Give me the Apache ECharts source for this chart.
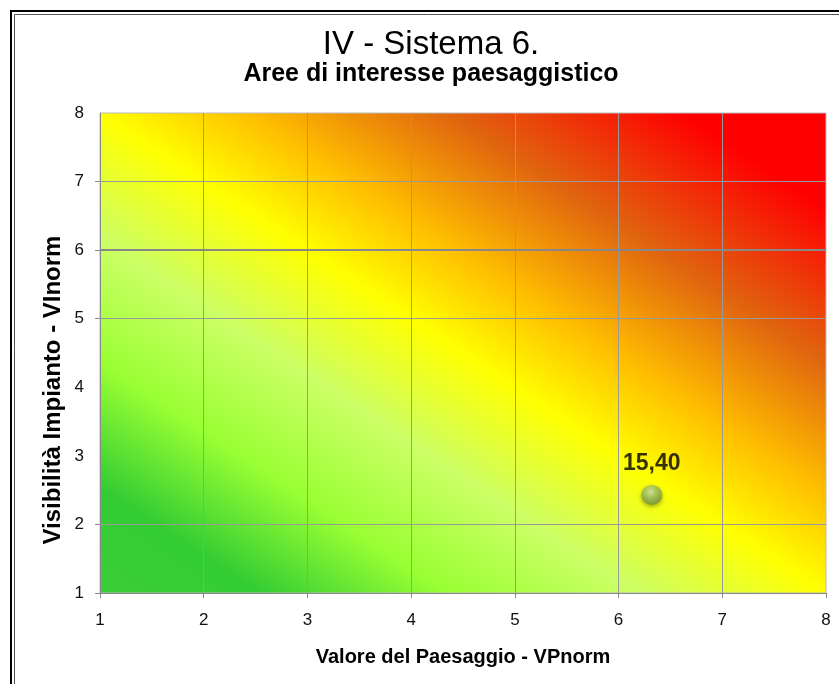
<!DOCTYPE html>
<html><head><meta charset="utf-8">
<script src="https://cdn.jsdelivr.net/npm/echarts@6/dist/echarts.min.js"></script>
<style>html,body{margin:0;padding:0;background:#fff}#c{width:839px;height:684px}</style>
</head><body><div id="c"></div>
<script>
// ---- data ----
const titleText = 'IV - Sistema 6.';
const subtitleText = 'Aree di interesse paesaggistico';
const xAxisTitle = 'Valore del Paesaggio - VPnorm';
const yAxisTitle = 'Visibilità Impianto - VInorm';
const xValues = [6.32];
const yValues = [2.43];
const pointLabels = ['15,40'];
const xGridLines = [2, 3, 4, 5, 6, 7];
const yGridLines = [2, 5, 6, 7];
const yBoldGridLine = 6;
const yTickValues = [1, 2, 5, 6, 7];
const axisMin = 1, axisMax = 8, axisStep = 1;

// ---- layout / style ----
const FF = "'Liberation Sans', Arial, sans-serif";
const G = {left: 100, top: 113, right: 13, bottom: 91};
const W = 839 - G.left - G.right, H = 684 - G.top - G.bottom;
const s = W * W + H * H;
const gx2 = 2 * H * H / s, gy2 = 1 - 2 * W * W / s;
const bg = new echarts.graphic.LinearGradient(0, 1, gx2, gy2, [
  {offset: 0, color: '#3bcd37'},
  {offset: 0.11, color: '#33cc33'},
  {offset: 0.24, color: '#99ff33'},
  {offset: 0.37, color: '#ccff66'},
  {offset: 0.5, color: '#ffff00'},
  {offset: 0.6, color: '#ffc000'},
  {offset: 0.74, color: '#e0640f'},
  {offset: 0.9, color: '#ff0000'},
  {offset: 1, color: '#ff0000'}
]);

const chart = echarts.init(document.getElementById('c'), null, {renderer: 'canvas'});
const gridLineData = xGridLines.map(v => ({xAxis: v}))
  .concat(yGridLines.map(v => ({yAxis: v, lineStyle: {width: v === yBoldGridLine ? 2 : 1, color: v === yBoldGridLine ? '#888' : '#999'}})));

chart.setOption({
  animation: false,
  backgroundColor: '#fff',
  title: [
    {text: titleText, left: 431, top: 28, textAlign: 'center', padding: 0,
     textStyle: {fontFamily: FF, fontSize: 33, lineHeight: 33, fontWeight: 'normal', color: '#000'}},
    {text: subtitleText, left: 431, top: 62, textAlign: 'center', padding: 0,
     textStyle: {fontFamily: FF, fontSize: 25, lineHeight: 25, fontWeight: 'bold', color: '#000'}}
  ],
  graphic: [
    {type: 'rect', silent: true, z: 100, shape: {x: 11, y: 11, width: 1000, height: 1000}, style: {fill: 'none', stroke: '#000', lineWidth: 2}},
    {type: 'rect', silent: true, z: 100, shape: {x: 14.5, y: 14.5, width: 1000, height: 1000}, style: {fill: 'none', stroke: '#555', lineWidth: 1}},
    {type: 'text', silent: true, x: 53, y: 390, rotation: Math.PI / 2,
     style: {text: yAxisTitle, fontFamily: FF, fontSize: 24, fontWeight: 'bold', fill: '#000', align: 'center', verticalAlign: 'middle'}}
  ],
  grid: {left: G.left, top: G.top, right: G.right, bottom: G.bottom, show: true,
         borderColor: '#bbb', borderWidth: 1, backgroundColor: bg},
  xAxis: {
    type: 'value', min: axisMin, max: axisMax, interval: axisStep,
    name: xAxisTitle, nameLocation: 'middle', nameGap: 54,
    nameTextStyle: {fontFamily: FF, fontSize: 20, fontWeight: 'bold', color: '#000'},
    axisLine: {show: true, lineStyle: {color: '#888'}},
    axisTick: {show: true, length: 5, lineStyle: {color: '#888'}},
    axisLabel: {margin: 19, fontFamily: FF, fontSize: 17, color: '#111'},
    splitLine: {show: false}
  },
  yAxis: {
    type: 'value', min: axisMin, max: axisMax, interval: axisStep,
    axisLine: {show: true, lineStyle: {color: '#888'}},
    axisTick: {show: true, length: 5, customValues: yTickValues, lineStyle: {color: '#888'}},
    axisLabel: {margin: 16, fontFamily: FF, fontSize: 17, color: '#111'},
    splitLine: {show: false}
  },
  series: [{
    type: 'scatter',
    data: xValues.map((x, i) => [x, yValues[i]]),
    symbolSize: [21, 20],
    itemStyle: {
      color: {type: 'radial', x: 0.45, y: 0.35, r: 0.7, colorStops: [
        {offset: 0, color: '#d8ebb8'}, {offset: 0.45, color: '#9cc062'}, {offset: 1, color: '#6a8c3a'}]},
      shadowBlur: 4, shadowColor: 'rgba(0,0,0,0.4)', shadowOffsetY: 2
    },
    label: {show: true, position: 'top', distance: 10, formatter: p => pointLabels[p.dataIndex],
            fontFamily: FF, fontSize: 23, fontWeight: 'bold', color: '#000'},
    markLine: {silent: true, symbol: 'none', label: {show: false},
               lineStyle: {color: '#999', width: 1, type: 'solid'}, data: gridLineData}
  }]
});
</script></body></html>
